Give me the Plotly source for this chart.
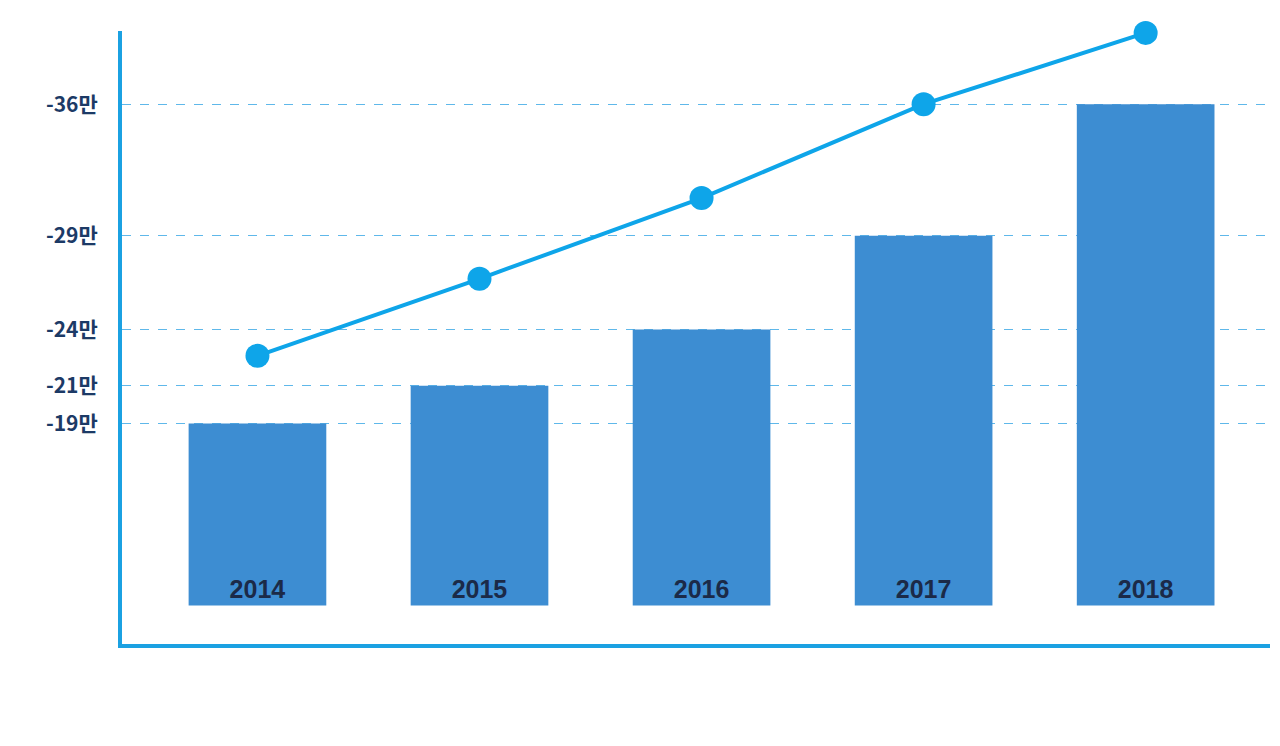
import plotly.graph_objects as go

# data (values in 만)
years = ['2014', '2015', '2016', '2017', '2018']
bar_values = [19, 21, 24, 29, 36]
line_values = [22.6, 26.7, 31.0, 36.0, 39.8]
tick_values = [19, 21, 24, 29, 36]
tick_labels = ['<b>-19만</b>', '<b>-21만</b>', '<b>-24만</b>', '<b>-29만</b>', '<b>-36만</b>']

base = 9.3

fig = go.Figure()

fig.add_trace(go.Bar(
    x=years, y=[v - base for v in bar_values], base=base,
    width=0.62, marker=dict(color='#3d8dd2', line=dict(width=0)),
    text=['<b>%s</b>' % y for y in years], textposition='inside',
    insidetextanchor='start', textangle=0,
    textfont=dict(family='Liberation Sans, Arial', size=25, color='#1b2a48'),
    showlegend=False, hoverinfo='skip'))

fig.add_trace(go.Scatter(
    x=years, y=line_values, mode='lines+markers',
    line=dict(color='#0ea5e9', width=4),
    marker=dict(size=24, color='#0ea5e9'),
    cliponaxis=False, showlegend=False))

fig.update_layout(
    width=1280, height=746,
    margin=dict(l=114, r=18, t=23, b=110),
    plot_bgcolor='white', paper_bgcolor='white',
    xaxis=dict(range=[-0.61, 4.56], showticklabels=False, showgrid=False,
               showline=True, linecolor='#1ba1e2', linewidth=4, zeroline=False),
    yaxis=dict(range=[7.25, 39.9], tickvals=tick_values, ticktext=tick_labels,
               tickfont=dict(family='Noto Sans CJK KR', size=21, color='#1c3a66'),
               showgrid=True, gridcolor='#5fb8ea', griddash='dash', gridwidth=1,
               showline=True, linecolor='#1ba1e2', linewidth=4, zeroline=False,
               ticklabelstandoff=16),
)

fig.write_html("out.html")
